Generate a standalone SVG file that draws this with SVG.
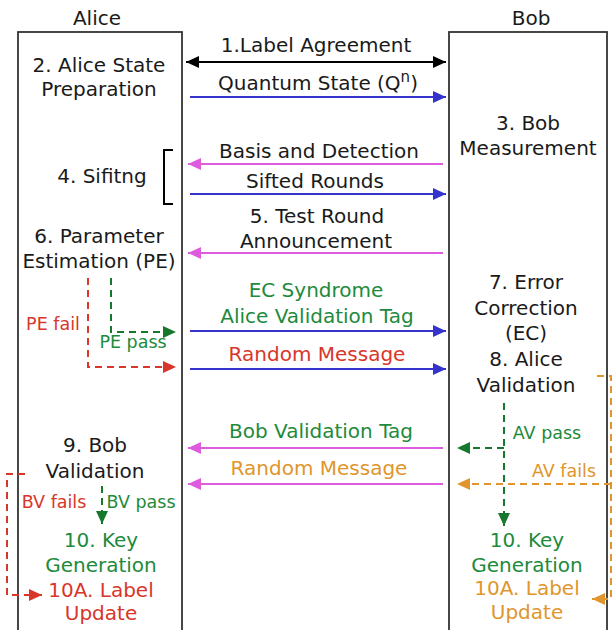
<svg xmlns="http://www.w3.org/2000/svg" width="615" height="630" viewBox="0 0 615 630">
<style>
text{font-family:"DejaVu Sans","Verdana",sans-serif;font-size:20px;fill:#1a1a1a;text-anchor:middle}
.s{font-size:17.5px}
.g{fill:#1e8a3c}.r{fill:#d8362a}.o{fill:#e0962c}
.box{fill:none;stroke:#333;stroke-width:1.8}
.ln{fill:none;stroke-width:2}
.k{stroke:#000}.b{stroke:#3434cc}.m{stroke:#dd5cdd}
.dg{fill:none;stroke:#16782c;stroke-width:2;stroke-dasharray:7 5}
.dr{fill:none;stroke:#d8362a;stroke-width:2;stroke-dasharray:7 5}
.do{fill:none;stroke:#e0962c;stroke-width:2;stroke-dasharray:7 5}
</style>
<defs>
<marker id="ak" markerUnits="userSpaceOnUse" markerWidth="14" markerHeight="14" viewBox="0 0 14 14" refX="13" refY="7" orient="auto-start-reverse"><path d="M0,1 L13,7 L0,13 Z" fill="#000"/></marker>
<marker id="ab" markerUnits="userSpaceOnUse" markerWidth="14" markerHeight="14" viewBox="0 0 14 14" refX="13" refY="7" orient="auto"><path d="M0,1 L13,7 L0,13 Z" fill="#3434cc"/></marker>
<marker id="am" markerUnits="userSpaceOnUse" markerWidth="14" markerHeight="14" viewBox="0 0 14 14" refX="13" refY="7" orient="auto"><path d="M0,1 L13,7 L0,13 Z" fill="#dd5cdd"/></marker>
<marker id="ag" markerUnits="userSpaceOnUse" markerWidth="14" markerHeight="14" viewBox="0 0 14 14" refX="13" refY="7" orient="auto"><path d="M0,1 L13,7 L0,13 Z" fill="#16782c"/></marker>
<marker id="ar" markerUnits="userSpaceOnUse" markerWidth="14" markerHeight="14" viewBox="0 0 14 14" refX="13" refY="7" orient="auto"><path d="M0,1 L13,7 L0,13 Z" fill="#d8362a"/></marker>
<marker id="ao" markerUnits="userSpaceOnUse" markerWidth="14" markerHeight="14" viewBox="0 0 14 14" refX="13" refY="7" orient="auto"><path d="M0,1 L13,7 L0,13 Z" fill="#e0962c"/></marker>
</defs>

<g id="alice">
<text x="97" y="25">Alice</text>
<rect class="box" x="18" y="32" width="164" height="620"/>
</g>
<g id="bob">
<text x="531" y="25">Bob</text>
<rect class="box" x="449" y="32" width="158" height="620"/>
</g>

<g id="alice-prep"><text x="99" y="72">2. Alice State</text><text x="99" y="96">Preparation</text></g>
<g id="bob-measure"><text x="528" y="130">3. Bob</text><text x="528" y="155">Measurement</text></g>
<g id="sifting"><text x="102" y="183">4. Sifitng</text><path d="M173,150 H164 V204 H173" fill="none" stroke="#000" stroke-width="2"/></g>
<g id="pe"><text x="99" y="243">6. Parameter</text><text x="99" y="268">Estimation (PE)</text></g>
<g id="ec"><text x="526" y="289">7. Error</text><text x="526" y="315">Correction</text><text x="526" y="340">(EC)</text><text x="526" y="366">8. Alice</text><text x="526" y="392">Validation</text></g>
<g id="bob-valid"><text x="95" y="452">9. Bob</text><text x="95" y="478">Validation</text></g>
<g id="alice-keygen"><text class="g" x="101" y="547">10. Key</text><text class="g" x="101" y="572">Generation</text><text class="r" x="101" y="597">10A. Label</text><text class="r" x="101" y="620">Update</text></g>
<g id="bob-keygen"><text class="g" x="527" y="547">10. Key</text><text class="g" x="527" y="572">Generation</text><text class="o" x="527" y="595">10A. Label</text><text class="o" x="527" y="619">Update</text></g>

<g id="connectors">
<line class="ln k" x1="186" y1="62" x2="446" y2="62" marker-start="url(#ak)" marker-end="url(#ak)"/>
<text x="316" y="52">1.Label Agreement</text>
<line class="ln b" x1="190" y1="97" x2="446" y2="97" marker-end="url(#ab)"/>
<text x="318" y="90">Quantum State (Q<tspan font-size="15" dy="-8">n</tspan><tspan dy="8">)</tspan></text>
<line class="ln m" x1="443" y1="164" x2="188" y2="164" marker-end="url(#am)"/>
<text x="319" y="158">Basis and Detection</text>
<line class="ln b" x1="190" y1="194" x2="446" y2="194" marker-end="url(#ab)"/>
<text x="315" y="188">Sifted Rounds</text>
<line class="ln m" x1="443" y1="253" x2="188" y2="253" marker-end="url(#am)"/>
<text x="317" y="223">5. Test Round</text><text x="316" y="248">Announcement</text>
<line class="ln b" x1="190" y1="331" x2="446" y2="331" marker-end="url(#ab)"/>
<text class="g" x="316" y="297">EC Syndrome</text><text class="g" x="317" y="323">Alice Validation Tag</text>
<line class="ln b" x1="190" y1="369" x2="446" y2="369" marker-end="url(#ab)"/>
<text class="r" x="317" y="361">Random Message</text>
<line class="ln m" x1="443" y1="448" x2="188" y2="448" marker-end="url(#am)"/>
<text class="g" x="321" y="438">Bob Validation Tag</text>
<line class="ln m" x1="443" y1="484" x2="188" y2="484" marker-end="url(#am)"/>
<text class="o" x="319" y="475">Random Message</text>

<path class="dr" d="M88,278 V367 H176" marker-end="url(#ar)"/>
<path class="dg" d="M111,278 V332 H176" marker-end="url(#ag)"/>
<text class="s r" x="53" y="330">PE fail</text>
<text class="s g" x="133" y="348">PE pass</text>

<path class="dg" d="M504,403 V526" marker-end="url(#ag)"/>
<path class="dg" d="M504,448 H457" marker-end="url(#ag)"/>
<text class="s g" x="547" y="439">AV pass</text>
<path class="do" d="M597,376 H611 V599 H592" marker-end="url(#ao)"/>
<path class="do" d="M611,484 H457" marker-end="url(#ao)"/>
<text class="s o" x="564" y="477">AV fails</text>

<path class="dg" d="M102,486 V524" marker-end="url(#ag)"/>
<text class="s g" x="141" y="508">BV pass</text>
<path class="dr" d="M25,474 H7 V595 H42" marker-end="url(#ar)"/>
<text class="s r" x="54" y="508">BV fails</text>
</g>
</svg>
